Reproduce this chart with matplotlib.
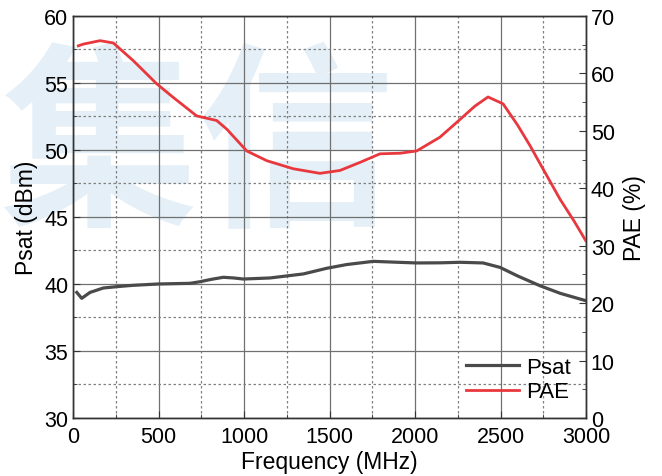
import numpy as np
import matplotlib
matplotlib.use("Agg")
import matplotlib.pyplot as plt
from matplotlib.ticker import MultipleLocator

plt.rcParams['font.family'] = ['Liberation Sans', 'DejaVu Sans']

# Psat (dBm)
psat_freq = [22, 51, 99, 177, 255, 350, 499, 684, 743, 810, 879, 940, 996,
             1152, 1347, 1483, 1600, 1756, 1900, 2010, 2150, 2263, 2398,
             2497, 2600, 2731, 2850, 3000]
psat_val = [39.37, 38.93, 39.37, 39.7, 39.8, 39.9, 40.0, 40.05, 40.17, 40.35,
            40.5, 40.45, 40.37, 40.45, 40.75, 41.17, 41.45, 41.69, 41.62,
            41.57, 41.58, 41.62, 41.57, 41.24, 40.6, 39.87, 39.3, 38.75]

# PAE (%)
pae_freq = [31, 60, 158, 236, 353, 489, 587, 723, 840, 899, 1016, 1133, 1288,
            1444, 1561, 1678, 1795, 1912, 2010, 2146, 2245, 2350, 2427, 2515,
            2600, 2673, 2750, 2848, 2930, 3000]
pae_val = [64.8, 65.1, 65.7, 65.3, 62.2, 58.2, 55.8, 52.6, 51.8, 50.3, 46.5,
           44.8, 43.4, 42.6, 43.1, 44.5, 46.0, 46.1, 46.5, 48.9, 51.5, 54.3,
           55.9, 54.7, 51.0, 47.4, 43.3, 38.1, 34.3, 30.8]

fig = plt.figure(figsize=(6.62, 4.77), dpi=100)

# watermark behind everything
fig.text(0.298, 0.68, "集信", family=['Noto Sans CJK SC'], fontweight='bold',
         fontsize=142, color='#e4eff7', ha='center', va='center', zorder=0)

ax = fig.add_axes([0.1103, 0.1216, 0.7749, 0.8428])
ax.set_facecolor('none')
ax.set_zorder(1)
ax2 = ax.twinx()
ax2.set_zorder(2)

ax.plot(psat_freq, psat_val, color='#4a4a4a', lw=2.3, label='Psat', zorder=3)
ax2.plot(pae_freq, pae_val, color='#e8383d', lw=2.0, label='PAE', zorder=3)

ax.set_xlim(0, 3000)
ax.set_ylim(30, 60)
ax2.set_ylim(0, 70)

ax.xaxis.set_major_locator(MultipleLocator(500))
ax.xaxis.set_minor_locator(MultipleLocator(250))
ax.yaxis.set_major_locator(MultipleLocator(5))
ax.yaxis.set_minor_locator(MultipleLocator(2.5))
ax2.yaxis.set_major_locator(MultipleLocator(10))
ax2.yaxis.set_minor_locator(MultipleLocator(5))

ax.grid(which='major', color='#707070', lw=0.9, ls='-')
ax.grid(which='minor', color='#808080', lw=0.9, ls=(0, (2, 2)))
ax.set_axisbelow(True)

for a in (ax, ax2):
    a.tick_params(which='both', direction='in', labelsize=15.5, color='#333333')
    a.tick_params(which='major', length=5)
    a.tick_params(which='minor', length=3)
    for s in a.spines.values():
        s.set_color('#333333')
        s.set_linewidth(1.0)
ax.tick_params(axis='x', pad=6)

ax.set_xlabel("Frequency (MHz)", fontsize=16.5, labelpad=2)
ax.set_ylabel("Psat (dBm)", fontsize=16.5, labelpad=4)
ax2.set_ylabel("PAE (%)", fontsize=16.5, labelpad=6)

h1, l1 = ax.get_legend_handles_labels()
h2, l2 = ax2.get_legend_handles_labels()
ax2.legend(h1 + h2, l1 + l2, loc='lower right', frameon=False, fontsize=16,
           handlelength=2.4, handletextpad=0.3, labelspacing=0.15,
           borderaxespad=0.3)

fig.savefig("out.png", dpi=100)
